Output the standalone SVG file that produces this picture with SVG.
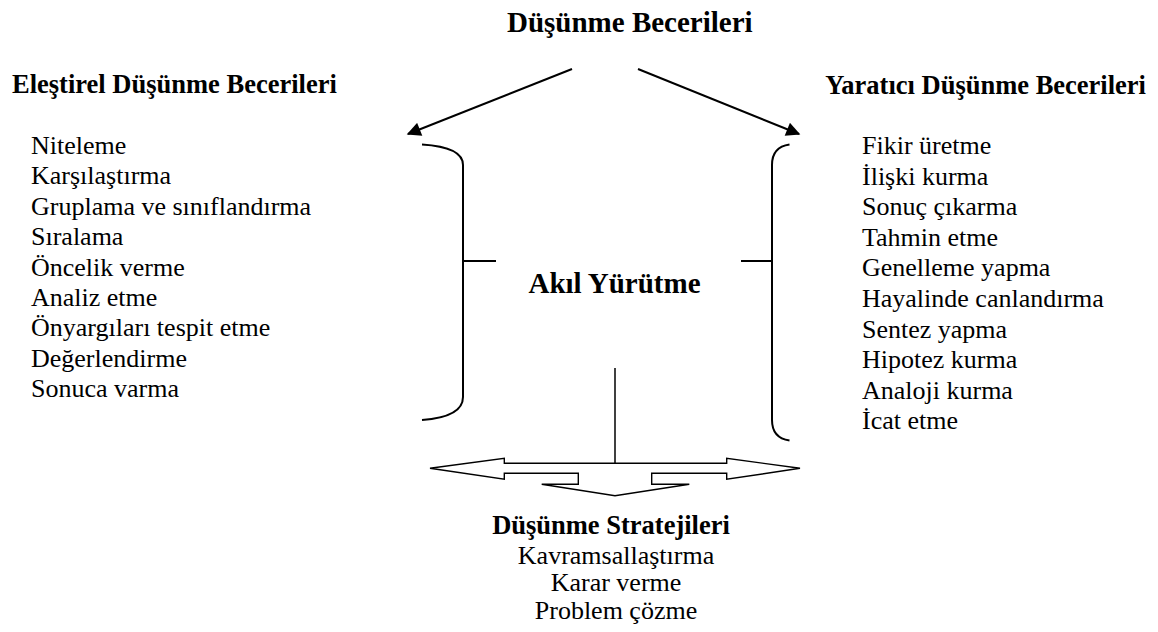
<svg xmlns="http://www.w3.org/2000/svg" width="1158" height="632" viewBox="0 0 1158 632">
<style>
.h{font-weight:bold;font-size:26.5px}
.t{font-size:26px}
.ln{fill:none;stroke:#000;stroke-width:2}
.bk{fill:none;stroke:#000;stroke-width:2}
</style>
<defs>
<marker id="ah" viewBox="0 0 10 10" refX="9" refY="5" markerWidth="8" markerHeight="7" markerUnits="strokeWidth" orient="auto">
<path d="M0,0 L10,5 L0,10 Z" fill="#000"/>
</marker>
</defs>
<rect width="1158" height="632" fill="#fff"/>
<g font-family="Liberation Serif" fill="#000">
<g id="title"><text x="507" y="32" font-weight="bold" font-size="29">Düşünme Becerileri</text></g>
<g id="critical">
<text class="h" x="12" y="93">Eleştirel Düşünme Becerileri</text>
<text class="t" x="31" y="154">Niteleme</text>
<text class="t" x="31" y="184.4">Karşılaştırma</text>
<text class="t" x="31" y="214.8">Gruplama ve sınıflandırma</text>
<text class="t" x="31" y="245.2">Sıralama</text>
<text class="t" x="31" y="275.6">Öncelik verme</text>
<text class="t" x="31" y="306">Analiz etme</text>
<text class="t" x="31" y="336.4">Önyargıları tespit etme</text>
<text class="t" x="31" y="366.8">Değerlendirme</text>
<text class="t" x="31" y="397.2">Sonuca varma</text>
</g>
<g id="creative">
<text class="h" x="1146" y="94" text-anchor="end">Yaratıcı Düşünme Becerileri</text>
<text class="t" x="862" y="154">Fikir üretme</text>
<text class="t" x="862" y="184.6">İlişki kurma</text>
<text class="t" x="862" y="215.2">Sonuç çıkarma</text>
<text class="t" x="862" y="245.8">Tahmin etme</text>
<text class="t" x="862" y="276.4">Genelleme yapma</text>
<text class="t" x="862" y="307">Hayalinde canlandırma</text>
<text class="t" x="862" y="337.6">Sentez yapma</text>
<text class="t" x="862" y="368.2">Hipotez kurma</text>
<text class="t" x="862" y="398.8">Analoji kurma</text>
<text class="t" x="862" y="429.4">İcat etme</text>
</g>
<g id="reasoning"><text x="614.5" y="293" text-anchor="middle" font-weight="bold" font-size="29">Akıl Yürütme</text></g>
<g id="strategies">
<text class="h" x="611" y="534" text-anchor="middle">Düşünme Stratejileri</text>
<text class="t" x="616" y="563.5" text-anchor="middle">Kavramsallaştırma</text>
<text class="t" x="616" y="591" text-anchor="middle">Karar verme</text>
<text class="t" x="616" y="618.5" text-anchor="middle">Problem çözme</text>
</g>
</g>
<g id="connectors">
<line class="ln" x1="572" y1="69" x2="408" y2="134" marker-end="url(#ah)"/>
<line class="ln" x1="638" y1="69" x2="799" y2="134" marker-end="url(#ah)"/>
<path class="bk" d="M422,144.5 Q463,147 463,165 L463,397 Q463,417 422,420"/>
<line class="bk" x1="463" y1="261" x2="496" y2="261"/>
<path class="bk" d="M789.5,144.5 Q772,147 772,165 L772,420 Q772,438 789.5,440.5"/>
<line class="bk" x1="741" y1="261" x2="772" y2="261"/>
<line x1="615" y1="368" x2="615" y2="463.3" stroke="#000" stroke-width="1.5"/>
<path d="M430,468.3 L504.3,458.3 L504.3,463.3 L726.7,463.3 L726.7,458.3 L800,468.3 L726.7,479.3 L726.7,473.3 L651.7,473.3 L651.7,484.3 L689.3,484.3 L615,495.7 L541.7,484.3 L578.3,484.3 L578.3,473.3 L504.3,473.3 L504.3,479.3 Z" fill="#fff" stroke="#000" stroke-width="1.4" stroke-linejoin="miter"/>
</g>
</svg>
